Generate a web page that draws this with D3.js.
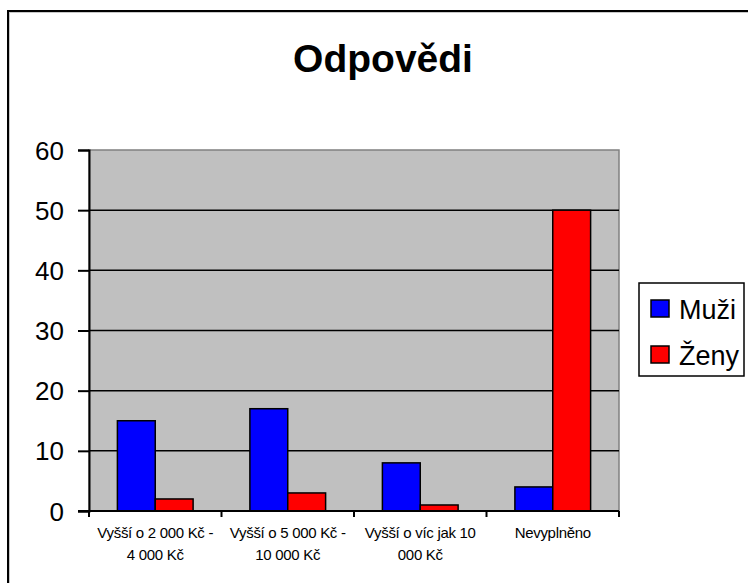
<!DOCTYPE html>
<html>
<head>
<meta charset="utf-8">
<script src="https://cdn.jsdelivr.net/npm/d3@7"></script>
<style>
  body { margin: 0; background: #fff; }
  svg { display: block; font-family: "Liberation Sans", Arial, sans-serif; }
</style>
</head>
<body>
<div id="chart"></div>
<script>
// chart data
var categories = [["Vyšší o 2 000 Kč -", "4 000 Kč"], ["Vyšší o 5 000 Kč -", "10 000 Kč"], ["Vyšší o víc jak 10", "000 Kč"], ["Nevyplněno"]];
var seriesNames = ["Muži", "Ženy"];
var muzi = [15, 17, 8, 4];
var zeny = [2, 3, 1, 50];
var yTicks = [0, 10, 20, 30, 40, 50, 60];
var colors = ["#0000ff", "#ff0000"];

var W = 748, H = 583;
var plot = {left: 89, right: 619, top: 150, bottom: 511};

var svg = d3.select("#chart").append("svg")
    .attr("width", W).attr("height", H);

// outer frame
svg.append("rect").attr("x", 9).attr("y", 12).attr("width", 760).attr("height", 600)
    .attr("fill", "none").attr("stroke", "#c8c8c8").attr("stroke-width", 2);
svg.append("rect").attr("x", 8).attr("y", 11).attr("width", 760).attr("height", 600)
    .attr("fill", "none").attr("stroke", "#000").attr("stroke-width", 2);

// title
svg.append("text").attr("x", 383).attr("y", 72).attr("text-anchor", "middle")
    .style("font-size", "39px").style("font-weight", "bold").text("Odpovědi");

var x = d3.scaleBand().domain(d3.range(categories.length))
    .range([plot.left, plot.right]).paddingInner(0).paddingOuter(0);
var y = d3.scaleLinear().domain([0, 60]).range([plot.bottom, plot.top]);

// plot background
svg.append("rect").attr("x", plot.left).attr("y", plot.top)
    .attr("width", plot.right - plot.left).attr("height", plot.bottom - plot.top)
    .attr("fill", "#c0c0c0").attr("stroke", "#808080").attr("stroke-width", 1.5);

// gridlines
svg.append("g").selectAll("line").data(yTicks.filter(d => d > 0 && d < 60)).enter().append("line")
    .attr("x1", plot.left).attr("x2", plot.right)
    .attr("y1", d => y(d)).attr("y2", d => y(d))
    .attr("stroke", "#000").attr("stroke-width", 1.5);

// bars
var inner = d3.scaleBand().domain(d3.range(seriesNames.length))
    .range([0, x.bandwidth()]).paddingOuter(0.75).paddingInner(0);
var series = [muzi, zeny];
series.forEach(function(vals, s) {
  svg.append("g").selectAll("rect").data(vals).enter().append("rect")
      .attr("x", (d, i) => x(i) + inner(s))
      .attr("y", d => y(d))
      .attr("width", inner.bandwidth())
      .attr("height", d => y(0) - y(d))
      .attr("fill", colors[s]).attr("stroke", "#000").attr("stroke-width", 1.5);
});

// y axis
var yAxis = d3.axisLeft(y).tickValues(yTicks).tickSize(11).tickPadding(14);
var gy = svg.append("g").attr("transform", "translate(" + plot.left + ",0)").call(yAxis);
gy.select(".domain").attr("stroke", "#000").attr("stroke-width", 2);
gy.selectAll(".tick line").attr("stroke", "#000").attr("stroke-width", 2);
gy.selectAll(".tick text").style("font-size", "26px").attr("fill", "#000")
    .attr("font-family", "'Liberation Sans', Arial, sans-serif").attr("dy", "0.35em");

// x axis
var xEdges = d3.range(categories.length + 1).map(i => plot.left + i * x.bandwidth());
svg.append("line").attr("x1", plot.left - 11).attr("x2", plot.right)
    .attr("y1", plot.bottom).attr("y2", plot.bottom).attr("stroke", "#000").attr("stroke-width", 2);
svg.append("g").selectAll("line").data(xEdges).enter().append("line")
    .attr("x1", d => d).attr("x2", d => d)
    .attr("y1", plot.bottom).attr("y2", plot.bottom + 6)
    .attr("stroke", "#000").attr("stroke-width", 2);

var labels = svg.append("g").selectAll("text").data(categories).enter().append("text")
    .attr("text-anchor", "middle")
    .style("font-size", "15px").style("letter-spacing", "-0.3px");
labels.each(function(lines, i) {
  var t = d3.select(this);
  lines.forEach(function(line, j) {
    t.append("tspan").attr("x", x(i) + x.bandwidth() / 2).attr("y", 538 + j * 22).text(line);
  });
});

// legend
var lg = svg.append("g");
lg.append("rect").attr("x", 639).attr("y", 283).attr("width", 105).attr("height", 93)
    .attr("fill", "#fff").attr("stroke", "#000").attr("stroke-width", 1.5);
seriesNames.forEach(function(name, i) {
  lg.append("rect").attr("x", 651).attr("y", 300 + i * 46).attr("width", 18).attr("height", 17)
      .attr("fill", colors[i]).attr("stroke", "#000").attr("stroke-width", 1.5);
  lg.append("text").attr("x", 679).attr("y", 319 + i * 46)
      .style("font-size", "27px").text(name);
});
</script>
</body>
</html>
